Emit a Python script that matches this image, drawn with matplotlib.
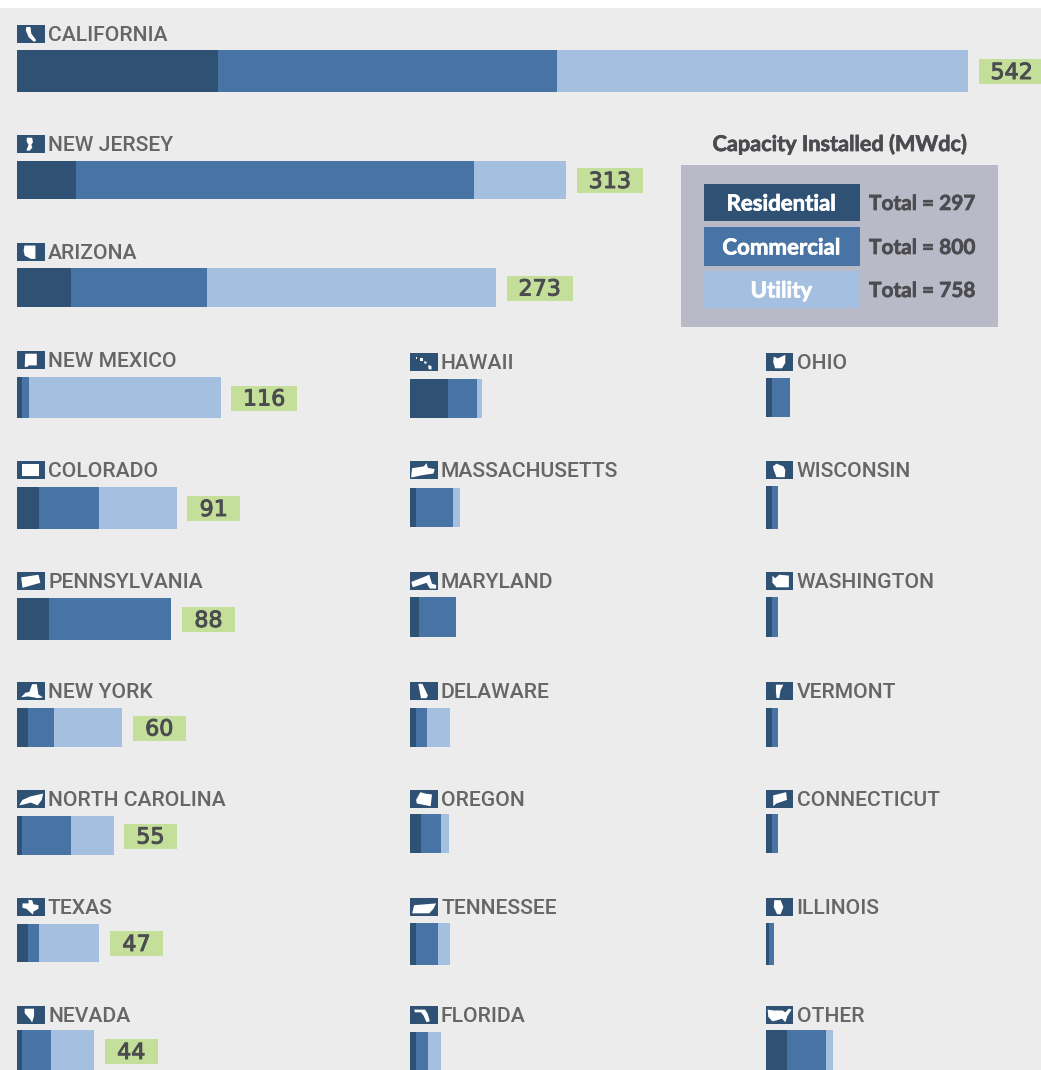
import matplotlib
matplotlib.use('Agg')
import matplotlib.pyplot as plt
import matplotlib.patheffects as pe
from matplotlib.patches import Polygon, Rectangle

# capacity by state, MWdc
states = ['CALIFORNIA', 'NEW JERSEY', 'ARIZONA', 'NEW MEXICO', 'COLORADO', 'PENNSYLVANIA',
          'NEW YORK', 'NORTH CAROLINA', 'TEXAS', 'NEVADA',
          'HAWAII', 'MASSACHUSETTS', 'MARYLAND', 'DELAWARE', 'OREGON', 'TENNESSEE', 'FLORIDA',
          'OHIO', 'WISCONSIN', 'WASHINGTON', 'VERMONT', 'CONNECTICUT', 'ILLINOIS', 'OTHER']
residential = [114.5, 33.5, 31, 3, 12.4, 18.5, 6.3, 2.7, 6, 2.7,
               21.9, 3.4, 5.3, 3.4, 6.3, 3.4, 3.4,
               3.5, 3.5, 3.5, 3.5, 3.5, 2, 12.3]
commercial = [193, 227, 77.5, 4, 34.3, 69.5, 15, 28, 6.3, 16.5,
              16, 21.3, 20.8, 6.1, 11.6, 12.4, 6.8,
              10.3, 3.4, 3.4, 3.4, 3.4, 2.7, 22.1]
utility = [234.5, 52.5, 164.5, 109, 44.3, 0, 38.7, 24.3, 34.7, 24.8,
           3.3, 4, 0, 13.1, 4.2, 6.8, 7.4,
           0, 0, 0, 0, 0, 0, 4.2]
# only the ten largest states carry a value tag
tagged_totals = [542, 313, 273, 116, 91, 88, 60, 55, 47, 44]

legend_names = ['Residential', 'Commercial', 'Utility']
legend_totals = [297, 800, 758]

# layout in pixels from the top left corner
W, H = 1041, 1070
SCALE = 1.755
col_x = [17] * 10 + [410] * 7 + [765.5] * 7
label_y = [34, 144, 252, 360, 470, 581, 691, 799, 907, 1015,
           362, 470, 581, 691, 799, 907, 1015,
           362, 470, 581, 691, 799, 907, 1015]
bar_top = [50, 161, 268, 377, 487, 598, 708, 816, 924, 1030,
           379, 488, 597, 708, 814, 923, 1032,
           378, 486, 597, 708, 814, 923, 1030]
bar_bottom = [92, 199, 307, 418, 529, 640, 747, 855, 962, 1072,
              418, 527, 637, 747, 853, 965, 1072,
              417, 529, 637, 747, 853, 965, 1072]

DARK = '#2e5174'
MID = '#4873a5'
LIGHT = '#a4bfdf'
PANEL = '#ececec'
TAG = '#c3df9a'
LABEL_GREY = '#666666'
TEXT_DARK = '#4c4c50'

# narrowest bold face on hand for the legend block
LEGEND_FONT = ['Lato']

# small white state outlines, unit square with y running down
outlines = {
    'CALIFORNIA': [(.34, .11), (.49, .11), (.52, .48), (.70, .85), (.62, .94), (.42, .67), (.32, .30)],
    'NEW JERSEY': [(.36, .15), (.55, .15), (.58, .4), (.52, .55), (.56, .7), (.45, .88), (.34, .85), (.42, .55), (.35, .35)],
    'ARIZONA': [(.27, .14), (.67, .14), (.67, .88), (.5, .88), (.28, .7), (.24, .42)],
    'NEW MEXICO': [(.30, .15), (.72, .15), (.72, .8), (.42, .8), (.38, .88), (.28, .88)],
    'COLORADO': [(.18, .17), (.81, .17), (.81, .85), (.18, .85)],
    'PENNSYLVANIA': [(.15, .3), (.78, .15), (.85, .6), (.2, .88)],
    'NEW YORK': [(.15, .85), (.3, .6), (.45, .55), (.55, .12), (.72, .12), (.78, .7), (.95, .85), (.75, .9), (.6, .85), (.4, .8)],
    'NORTH CAROLINA': [(.08, .85), (.2, .55), (.5, .35), (.95, .2), (.9, .55), (.75, .85), (.5, .7), (.25, .8)],
    'TEXAS': [(.2, .3), (.42, .3), (.42, .1), (.55, .12), (.6, .35), (.78, .4), (.78, .6), (.6, .75), (.58, .92), (.45, .75), (.35, .6), (.2, .55)],
    'NEVADA': [(.28, .15), (.62, .15), (.62, .55), (.55, .92), (.48, .75), (.28, .4)],
    'MASSACHUSETTS': [(.05, .7), (.08, .4), (.5, .3), (.6, .12), (.65, .38), (.9, .45), (.85, .7), (.6, .75), (.4, .8), (.05, .92)],
    'MARYLAND': [(.05, .55), (.55, .25), (.7, .15), (.8, .65), (.95, .72), (.95, .92), (.72, .92), (.6, .6), (.1, .85)],
    'DELAWARE': [(.3, .1), (.45, .1), (.65, .75), (.6, .9), (.4, .9)],
    'OREGON': [(.22, .55), (.38, .12), (.55, .2), (.8, .25), (.75, .9), (.25, .75)],
    'TENNESSEE': [(.08, .85), (.15, .4), (.95, .3), (.85, .6), (.7, .85)],
    'FLORIDA': [(.15, .2), (.55, .2), (.65, .45), (.72, .85), (.6, .9), (.5, .55), (.4, .35), (.18, .35)],
    'OHIO': [(.3, .2), (.45, .3), (.72, .1), (.72, .55), (.6, .85), (.35, .85), (.28, .5)],
    'WISCONSIN': [(.27, .3), (.4, .15), (.65, .3), (.72, .5), (.7, .9), (.4, .9), (.3, .5)],
    'WASHINGTON': [(.25, .2), (.35, .35), (.5, .15), (.85, .2), (.85, .85), (.4, .85), (.25, .6)],
    'VERMONT': [(.38, .15), (.65, .15), (.55, .45), (.5, .9), (.4, .88), (.38, .5)],
    'CONNECTICUT': [(.28, .3), (.75, .12), (.78, .55), (.4, .75), (.28, .9)],
    'ILLINOIS': [(.32, .12), (.55, .12), (.65, .5), (.55, .9), (.42, .9), (.3, .5)],
    'OTHER': [(.08, .2), (.3, .25), (.62, .25), (.72, .35), (.85, .15), (.95, .2), (.8, .55), (.72, .9), (.6, .7), (.4, .8), (.25, .85), (.1, .6)],
}
# Hawaii is a chain of separate islands
hawaii_islands = [
    [(.2, .2), (.26, .2), (.26, .32), (.2, .32)],
    [(.38, .3), (.46, .3), (.46, .42), (.38, .42)],
    [(.52, .45), (.6, .48), (.6, .6), (.52, .58)],
    [(.66, .68), (.78, .72), (.78, .92), (.68, .9)],
]

fig = plt.figure(figsize=(W / 100, H / 100), dpi=100, facecolor='white')

# full page layer in pixel coordinates for panel, labels, icons and legend
page = fig.add_axes([0, 0, 1, 1])
page.set_xlim(0, W)
page.set_ylim(H, 0)
page.axis('off')
page.add_patch(Rectangle((0, 8), W, H - 8, color=PANEL, lw=0))


def draw_icon(name, x, yc):
    w, h = 27.5, 18
    top = yc - h / 2
    page.add_patch(Rectangle((x, top), w, h, color=DARK, lw=0))
    shapes = hawaii_islands if name == 'HAWAII' else [outlines[name]]
    for shape in shapes:
        pts = [(x + px * w, top + py * h) for px, py in shape]
        page.add_patch(Polygon(pts, closed=True, color='white', lw=0))


for i, name in enumerate(states):
    x0 = col_x[i]
    draw_icon(name, x0, label_y[i])
    page.text(x0 + 31, label_y[i] + 1.8, name, family=['Roboto'], weight='medium', fontsize=15.2,
              color=LABEL_GREY, va='center', ha='left')

    # each state gets its own axes so the bars sit on a shared MW scale
    h_px = bar_bottom[i] - bar_top[i]
    w_px = W - x0
    ax = fig.add_axes([x0 / W, 1 - bar_bottom[i] / H, w_px / W, h_px / H], zorder=2)
    ax.set_xlim(0, w_px / SCALE)
    ax.set_ylim(h_px, 0)
    ax.axis('off')
    ax.patch.set_alpha(0)

    left = 0
    for vals, c in zip((residential, commercial, utility), (DARK, MID, LIGHT)):
        ax.barh(h_px / 2, vals[i], left=left, height=h_px, color=c, lw=0)
        left += vals[i]

    if i < len(tagged_totals):
        total = tagged_totals[i]
        tag_w = (66 if total >= 100 else 53) / SCALE
        tag_h = 25
        # the bottom row runs off the page, so centre its tag on the visible bar
        mid = h_px / 2 if bar_bottom[i] <= H else (H - bar_top[i]) / 2 + 1
        start = total + 10.5 / SCALE
        ax.add_patch(Rectangle((start, mid - tag_h / 2 + 0.5), tag_w, tag_h, color=TAG, lw=0))
        ax.text(start + tag_w / 2, mid + 2, str(total), family=['DejaVu Sans'], fontsize=16,
                color=TEXT_DARK, ha='center', va='center',
                path_effects=[pe.withStroke(linewidth=0.7, foreground=TEXT_DARK)])

# legend block
thicker = [pe.withStroke(linewidth=0.5, foreground=TEXT_DARK)]
page.text(840, 144, 'Capacity Installed (MWdc)', family=LEGEND_FONT, weight='bold', fontsize=15.6,
          color=TEXT_DARK, ha='center', va='center', path_effects=thicker)
page.add_patch(Rectangle((681, 165), 317, 162, color='#b8bac8', lw=0))
swatch_top = [184, 227, 271]
swatch_h = [37, 39, 37]
for name, total, c, top, sh in zip(legend_names, legend_totals, (DARK, MID, LIGHT), swatch_top, swatch_h):
    page.add_patch(Rectangle((704, top), 155.5, sh, color=c, lw=0))
    page.text(781.5, top + sh / 2 + 1.5, name, family=LEGEND_FONT, weight='bold', fontsize=16,
              color='white', ha='center', va='center',
              path_effects=[pe.withStroke(linewidth=0.5, foreground='white')])
    page.text(869, top + sh / 2 + 1.5, 'Total = %d' % total, family=LEGEND_FONT, weight='bold', fontsize=15,
              color=TEXT_DARK, ha='left', va='center', path_effects=thicker)

fig.savefig('out.png', dpi=100)
